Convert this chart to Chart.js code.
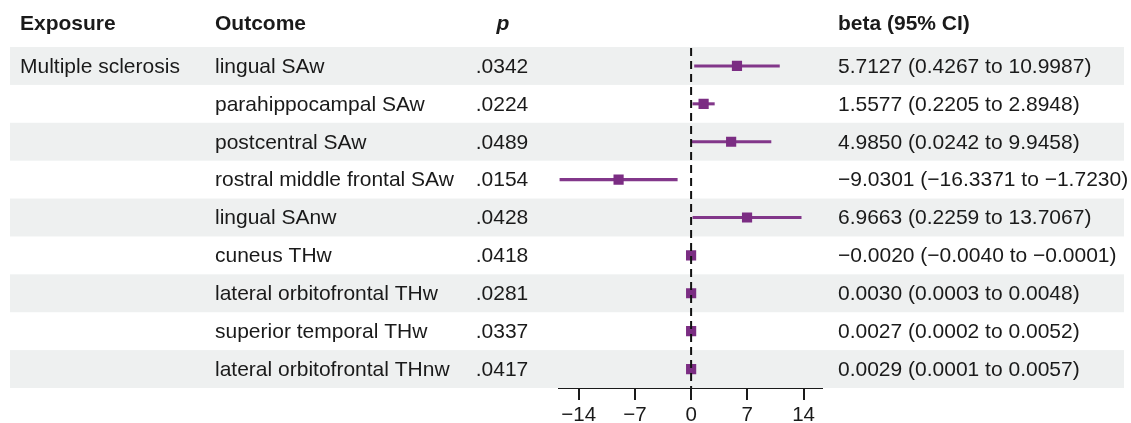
<!DOCTYPE html>
<html>
<head>
<meta charset="utf-8">
<script src="https://cdn.jsdelivr.net/npm/chart.js@4"></script>
<style>
  html, body { margin: 0; padding: 0; background: #ffffff; }
  #wrap { width: 1131px; height: 423px; position: relative; }
</style>
</head>
<body>
<div id="wrap"><canvas id="c"></canvas></div>
<script>
const exposures = ["Multiple sclerosis", "", "", "", "", "", "", "", ""];
const outcomes = [
  "lingual SAw",
  "parahippocampal SAw",
  "postcentral SAw",
  "rostral middle frontal SAw",
  "lingual SAnw",
  "cuneus THw",
  "lateral orbitofrontal THw",
  "superior temporal THw",
  "lateral orbitofrontal THnw"
];
const pValues = [".0342", ".0224", ".0489", ".0154", ".0428", ".0418", ".0281", ".0337", ".0417"];
const betas = [5.7127, 1.5577, 4.9850, -9.0301, 6.9663, -0.0020, 0.0030, 0.0027, 0.0029];
const lows  = [0.4267, 0.2205, 0.0242, -16.3371, 0.2259, -0.0040, 0.0003, 0.0002, 0.0001];
const highs = [10.9987, 2.8948, 9.9458, -1.7230, 13.7067, -0.0001, 0.0048, 0.0052, 0.0057];
const tickValues = [-14, -7, 0, 7, 14];

const PURPLE = '#7b2d83';
const TEXT = '#1a1a1a';
const FONT = '"Liberation Sans", Arial, Helvetica, sans-serif';

function fmt(v) {
  const s = Math.abs(v).toFixed(4);
  return (v < 0 ? '\u2212' : '') + s;
}
function fmtTick(v) {
  return (v < 0 ? '\u2212' : '') + Math.abs(v);
}

const tablePlugin = {
  id: 'tablePlugin',
  beforeDatasetsDraw(chart) {
    const ctx = chart.ctx;
    const y = chart.scales.y;
    const h = (chart.chartArea.bottom - chart.chartArea.top) / outcomes.length;
    ctx.save();
    ctx.fillStyle = '#eef0f0';
    outcomes.forEach((o, i) => {
      if (i % 2 === 0) {
        const cy = y.getPixelForValue(i);
        ctx.fillRect(10, cy - h / 2, 1114, h);
      }
    });
    ctx.restore();
  },
  afterDatasetsDraw(chart) {
    const ctx = chart.ctx;
    const x0 = chart.scales.x.getPixelForValue(0);
    ctx.save();
    ctx.strokeStyle = '#111111';
    ctx.lineWidth = 2;
    ctx.setLineDash([8, 5]);
    ctx.beginPath();
    ctx.moveTo(x0, chart.chartArea.top + 1);
    ctx.lineTo(x0, chart.chartArea.bottom);
    ctx.stroke();
    ctx.restore();
  },
  afterDraw(chart) {
    const ctx = chart.ctx;
    const y = chart.scales.y;
    ctx.save();
    ctx.fillStyle = TEXT;
    ctx.textBaseline = 'middle';
    const headY = 24;
    ctx.font = 'bold 21px ' + FONT;
    ctx.textAlign = 'left';
    ctx.fillText('Exposure', 20, headY);
    ctx.fillText('Outcome', 215, headY);
    ctx.fillText('beta (95% CI)', 838, headY);
    ctx.font = 'italic bold 21px ' + FONT;
    ctx.textAlign = 'center';
    ctx.fillText('p', 503, headY);

    ctx.font = '21px ' + FONT;
    outcomes.forEach((o, i) => {
      const cy = y.getPixelForValue(i) + 1;
      ctx.textAlign = 'left';
      if (exposures[i]) ctx.fillText(exposures[i], 20, cy);
      ctx.fillText(o, 215, cy);
      ctx.fillText(fmt(betas[i]) + ' (' + fmt(lows[i]) + ' to ' + fmt(highs[i]) + ')', 838, cy);
      ctx.textAlign = 'center';
      ctx.fillText(pValues[i], 502, cy);
    });
    ctx.restore();
  }
};

new Chart(document.getElementById('c'), {
  type: 'bar',
  data: {
    labels: outcomes,
    datasets: [
      {
        type: 'scatter',
        label: 'beta',
        data: betas.map((b, i) => ({ x: b, y: outcomes[i] })),
        pointStyle: 'rect',
        pointRadius: 7.2,
        pointBorderWidth: 0,
        backgroundColor: PURPLE,
        borderColor: PURPLE,
        order: 0
      },
      {
        type: 'bar',
        label: '95% CI',
        data: lows.map((l, i) => [l, highs[i]]),
        backgroundColor: '#82378a',
        borderWidth: 0,
        barThickness: 2.4,
        order: 1
      }
    ]
  },
  plugins: [tablePlugin],
  options: {
    indexAxis: 'y',
    responsive: true,
    maintainAspectRatio: false,
    animation: false,
    events: [],
    layout: { padding: { left: 559, right: 309, top: 47, bottom: 0 } },
    plugins: {
      legend: { display: false },
      tooltip: { enabled: false },
      title: { display: false }
    },
    scales: {
      x: {
        type: 'linear',
        min: -16.45,
        max: 16.3,
        afterBuildTicks(s) { s.ticks = tickValues.map(v => ({ value: v })); },
        afterFit(s) { s.height = 35; },
        grid: { drawOnChartArea: false, drawTicks: true, tickLength: 12, color: '#1a1a1a', lineWidth: 2 },
        border: { display: true, color: '#1a1a1a', width: 2 },
        ticks: {
          padding: 3,
          color: TEXT,
          font: { family: FONT, size: 20.5 },
          maxRotation: 0,
          autoSkip: false,
          callback: (v) => fmtTick(v)
        }
      },
      y: {
        type: 'category',
        labels: outcomes,
        offset: true,
        display: false,
        grid: { display: false }
      }
    }
  }
});
</script>
</body>
</html>
